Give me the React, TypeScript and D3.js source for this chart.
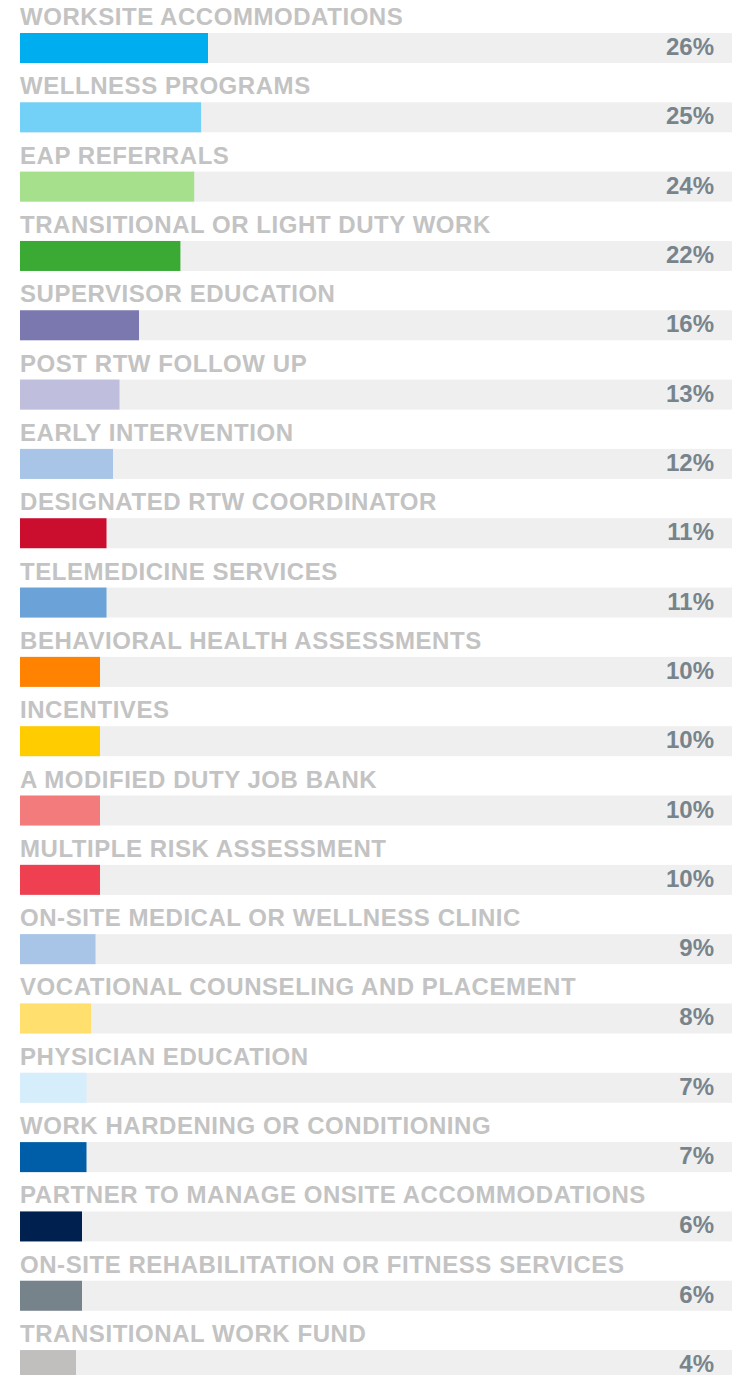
import * as d3 from "d3";

const categories = [
  "WORKSITE ACCOMMODATIONS",
  "WELLNESS PROGRAMS",
  "EAP REFERRALS",
  "TRANSITIONAL OR LIGHT DUTY WORK",
  "SUPERVISOR EDUCATION",
  "POST RTW FOLLOW UP",
  "EARLY INTERVENTION",
  "DESIGNATED RTW COORDINATOR",
  "TELEMEDICINE SERVICES",
  "BEHAVIORAL HEALTH ASSESSMENTS",
  "INCENTIVES",
  "A MODIFIED DUTY JOB BANK",
  "MULTIPLE RISK ASSESSMENT",
  "ON-SITE MEDICAL OR WELLNESS CLINIC",
  "VOCATIONAL COUNSELING AND PLACEMENT",
  "PHYSICIAN EDUCATION",
  "WORK HARDENING OR CONDITIONING",
  "PARTNER TO MANAGE ONSITE ACCOMMODATIONS",
  "ON-SITE REHABILITATION OR FITNESS SERVICES",
  "TRANSITIONAL WORK FUND",
];

const values = [26, 25, 24, 22, 16, 13, 12, 11, 11, 10, 10, 10, 10, 9, 8, 7, 7, 6, 6, 4];

const colors = [
  "#00aeef", "#73d0f7", "#a6e08c", "#3aaa35", "#7b78b0",
  "#bfbedd", "#a8c4e6", "#cc0e2e", "#6ba3d8", "#ff8200",
  "#ffcc00", "#f47b7b", "#ee4050", "#a8c4e6", "#ffe06e",
  "#d6eefb", "#005ea8", "#00214f", "#76838b", "#c0bfbd",
];

const width = 732;
const height = 1375;
const left = 20;
const top = 33;
const step = 69.32;
const barH = 30;
const font = "'Liberation Sans', Arial, Helvetica, sans-serif";

export default function App() {
  const y = d3
    .scaleBand<string>()
    .domain(categories)
    .range([top, top + step * categories.length])
    .paddingInner(0)
    .paddingOuter(0);

  // bar lengths in the original are not strictly proportional to the labels
  const w = d3
    .scaleLinear()
    .domain([0, 4, 6, 10, 16, 26])
    .range([0, 56, 62, 80, 119, 188]);

  return (
    <svg
      width={width}
      height={height}
      style={{ position: "absolute", left: 0, top: 0, background: "#fff" }}
    >
      {categories.map((c, i) => {
        const by = y(c)!;
        return (
          <g key={c}>
            <text
              x={left}
              y={by - 8}
              fill="#c3c3c3"
              fontFamily={font}
              fontWeight="bold"
              fontSize={24}
              letterSpacing={0.55}
            >
              {c}
            </text>
            <rect x={left} y={by} width={width - left} height={barH} fill="#efefef" />
            <rect x={left} y={by} width={w(values[i])} height={barH} fill={colors[i]} />
            <text
              x={714}
              y={by + 22}
              textAnchor="end"
              fill="#78848c"
              fontFamily={font}
              fontWeight="bold"
              fontSize={24}
            >
              {values[i]}%
            </text>
          </g>
        );
      })}
    </svg>
  );
}
